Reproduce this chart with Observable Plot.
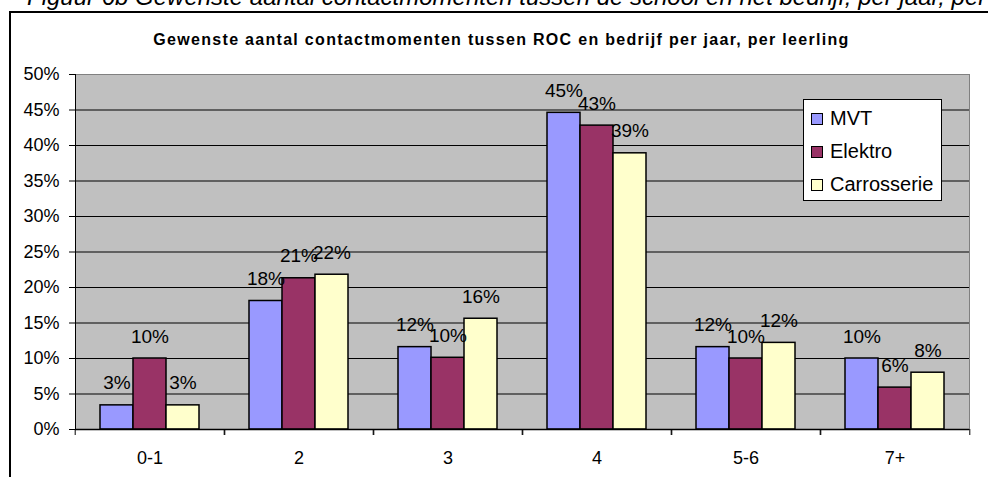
<!DOCTYPE html>
<html>
<head>
<meta charset="utf-8">
<script src="https://cdn.jsdelivr.net/npm/d3@7"></script>
<script src="https://cdn.jsdelivr.net/npm/@observablehq/plot@0.6"></script>
<style>
  html, body { margin: 0; padding: 0; background: #fff; }
  #wrap { position: relative; width: 988px; height: 477px; overflow: hidden; font-family: "Liberation Sans", Arial, sans-serif; }
  #caption { position: absolute; left: 27px; top: -15px; font-size: 24px; line-height: 24px; font-style: italic; white-space: nowrap; color: #000; }
  #border { position: absolute; left: 9px; top: 11px; width: 1000px; height: 500px; border: 2px solid #000; box-sizing: border-box; }
  #title { position: absolute; left: 9px; width: 985px; top: 31px; text-align: center; font-weight: bold; font-size: 16px; line-height: 18px; letter-spacing: 1.3px; color: #000; white-space: nowrap; }
  #chart { position: absolute; left: 0; top: 0; }
  #legend { position: absolute; left: 803px; top: 99px; width: 139px; height: 102px; box-sizing: border-box; background: #fff; border: 1px solid #000; font-size: 20px; }
  .item { position: absolute; left: 7px; height: 24px; line-height: 24px; white-space: nowrap; }
  .sw { display: inline-block; width: 10px; height: 10px; border: 1px solid #000; margin-right: 7px; vertical-align: middle; position: relative; top: -1px; }
</style>
</head>
<body>
<div id="wrap">
  <div id="caption">Figuur 6b Gewenste aantal contactmomenten tussen de school en het bedrijf, per jaar, per leerling</div>
  <div id="border"></div>
  <div id="title"></div>
  <div id="chart"></div>
  <div id="legend"></div>
</div>
<script>
const titleText = "Gewenste aantal contactmomenten tussen ROC en bedrijf per jaar, per leerling";
const categories = ["0-1", "2", "3", "4", "5-6", "7+"];
const series = ["MVT", "Elektro", "Carrosserie"];
const colors = ["#9999FF", "#993366", "#FFFFCC"];
const mvt = [3.4, 18.1, 11.6, 44.6, 11.6, 10.0];
const elektro = [10.0, 21.3, 10.1, 42.8, 10.0, 5.9];
const carrosserie = [3.4, 21.8, 15.6, 38.9, 12.2, 8.0];
const yTicks = [0, 5, 10, 15, 20, 25, 30, 35, 40, 45, 50];

const valuesBySeries = [mvt, elektro, carrosserie];
const data = categories.flatMap((cat, i) =>
  series.map((s, j) => ({cat, series: s, value: valuesBySeries[j][i]}))
);

document.getElementById("title").textContent = titleText;

const chart = Plot.plot({
  width: 988,
  height: 477,
  marginLeft: 73,
  marginRight: 17,
  marginTop: 74,
  marginBottom: 48,
  style: {background: "transparent", fontFamily: "Liberation Sans, Arial, sans-serif", color: "#000", overflow: "visible"},
  fx: {domain: categories, padding: 0, label: null},
  x: {domain: series, paddingInner: 0, paddingOuter: 0.72, axis: null},
  y: {domain: [0, 50], label: null},
  color: {domain: series, range: colors},
  marks: [
    Plot.frame({fill: "#C0C0C0", stroke: null, facet: "super"}),
    Plot.gridY(yTicks.slice(1, -1), {stroke: "#000", strokeOpacity: 1}),
    Plot.frame({anchor: "top", stroke: "#808080", strokeOpacity: 1, facet: "super"}),
    Plot.frame({anchor: "right", stroke: "#808080", strokeOpacity: 1, facet: "super"}),
    Plot.frame({anchor: "left", stroke: "#000", strokeOpacity: 1, facet: "super"}),
    Plot.barY(data, {fx: "cat", x: "series", y: "value", fill: "series", stroke: "#000", strokeWidth: 1.5}),
    Plot.ruleY([0], {stroke: "#000", strokeWidth: 1.5}),
    Plot.text(data, {fx: "cat", x: "series", y: "value", text: d => Math.round(d.value) + "%", dy: -22, fontSize: 19, fill: "#000"}),
    Plot.axisY(yTicks, {tickFormat: d => d + "%", tickSize: 6, tickPadding: 10, fontSize: 18, label: null}),
    Plot.axisFx({anchor: "bottom", tickSize: 0, tickPadding: 22, fontSize: 18, label: null}),
    Plot.axisFx({anchor: "bottom", tickSize: 6, tickFormat: () => "", dx: -74.8, label: null}),
    Plot.axisFx({anchor: "bottom", tickSize: 6, tickFormat: () => "", dx: 74.8, label: null})
  ]
});
document.getElementById("chart").appendChild(chart);

const legend = document.getElementById("legend");
series.forEach((s, j) => {
  const item = document.createElement("div");
  item.className = "item";
  item.style.top = (6 + j * 33) + "px";
  const sw = document.createElement("span");
  sw.className = "sw";
  sw.style.background = colors[j];
  item.appendChild(sw);
  item.appendChild(document.createTextNode(s));
  legend.appendChild(item);
});
</script>
</body>
</html>
